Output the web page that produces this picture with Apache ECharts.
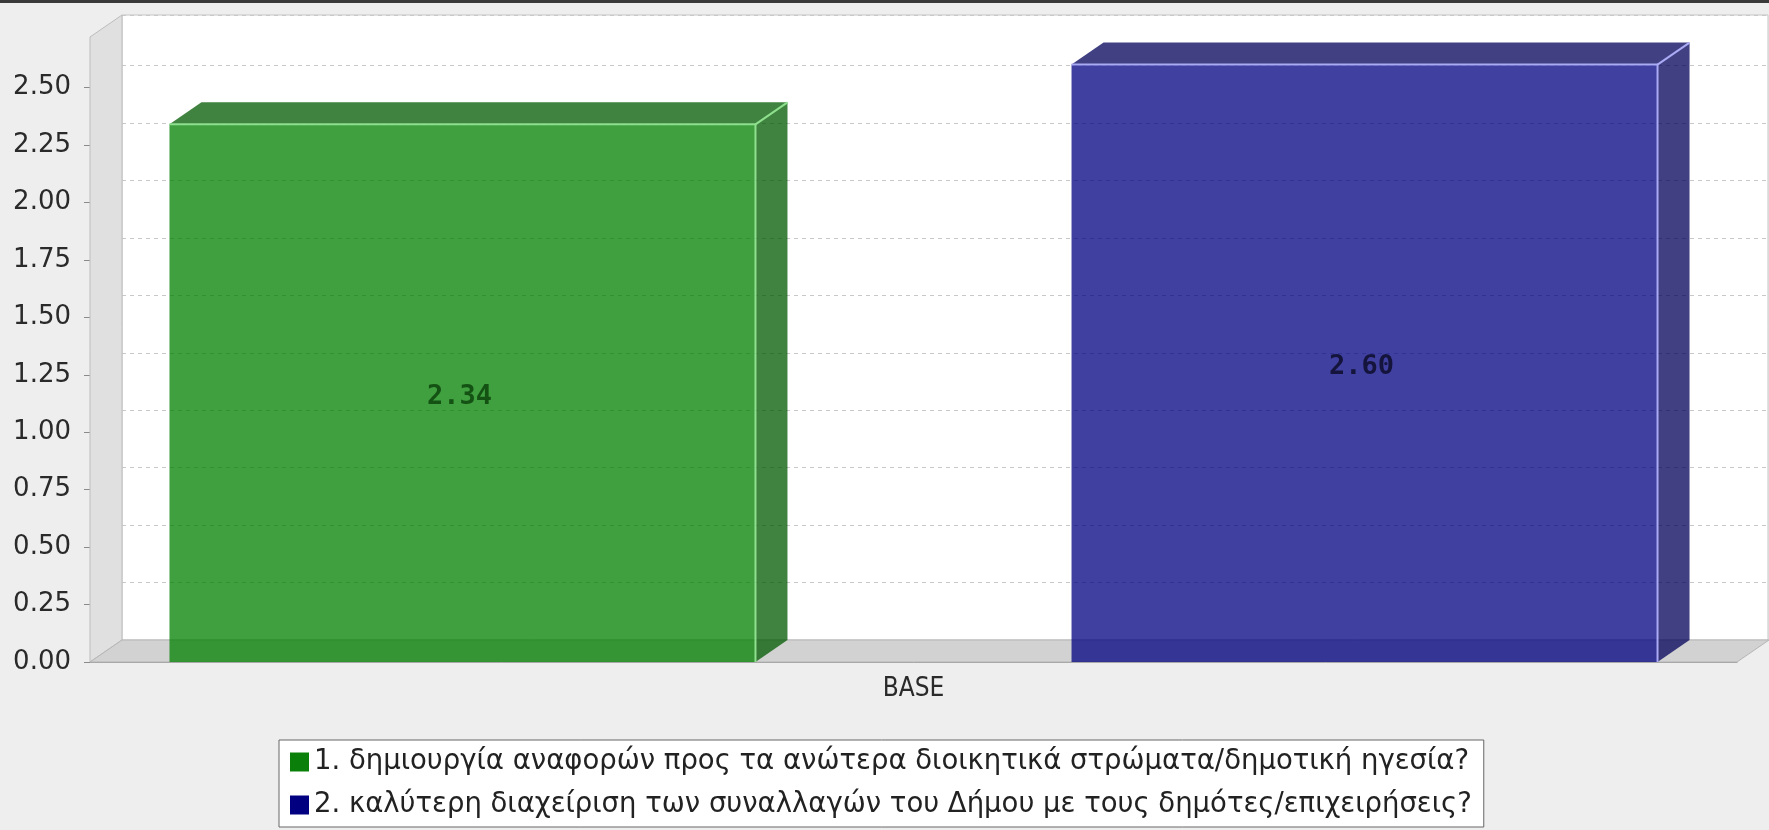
<!DOCTYPE html>
<html>
<head>
<meta charset="utf-8">
<script src="https://cdn.jsdelivr.net/npm/echarts@6/dist/echarts.min.js"></script>
<style>
html,body{margin:0;padding:0;background:#eeeeee;}
#chart{width:1769px;height:830px;}
</style>
</head>
<body>
<div id="chart"></div>
<script>
// ---- data ----
const categories = ['BASE'];
const seriesNames = [
  '1. δημιουργία αναφορών προς τα ανώτερα διοικητικά στρώματα/δημοτική ηγεσία?',
  '2. καλύτερη διαχείριση των συναλλαγών του Δήμου με τους δημότες/επιχειρήσεις?'
];
const values1 = [2.34];
const values2 = [2.60];
const yTicks = [0, 0.25, 0.5, 0.75, 1.0, 1.25, 1.5, 1.75, 2.0, 2.25, 2.5];
const yMin = 0;
const yMax = 2.72;

// ---- styling ----
const DX = 32, DY = 22;               // 3D depth offset
const BAR_FRAC = 0.3558, GAP_FRAC = 0.1919;
const AXIS_FONT = 'DejaVu Sans';
const CAT_FONT = 'DejaVu Sans Condensed';

const chart = echarts.init(document.getElementById('chart'), null, {renderer: 'canvas'});

function barRenderer(k, n, front, side, edge, labelColor) {
  return function (params, api) {
    const cat = api.value(0), val = api.value(1);
    const base = api.coord([cat, 0]);
    const top = api.coord([cat, val]);
    const band = api.size([1, 0])[0];
    const w = band * BAR_FRAC, g = band * GAP_FRAC;
    const total = n * w + (n - 1) * g;
    const x0 = base[0] - total / 2 + k * (w + g);
    const x1 = x0 + w;
    const yT = top[1], yB = base[1];
    return {
      type: 'group',
      children: [
        {type: 'polygon', shape: {points: [[x1, yT], [x1 + DX, yT - DY], [x1 + DX, yB - DY], [x1, yB]]},
         style: {fill: side, opacity: 0.75}},
        {type: 'polygon', shape: {points: [[x0, yT], [x0 + DX, yT - DY], [x1 + DX, yT - DY], [x1, yT]]},
         style: {fill: side, opacity: 0.75}},
        {type: 'rect', shape: {x: x0, y: yT, width: w, height: yB - yT},
         style: {fill: front, opacity: 0.75}},
        {type: 'polyline', shape: {points: [[x0, yT], [x1, yT], [x1, yB]]},
         style: {stroke: edge, lineWidth: 2, fill: null}},
        {type: 'line', shape: {x1: x1, y1: yT, x2: x1 + DX, y2: yT - DY},
         style: {stroke: edge, lineWidth: 2}},
        {type: 'text', x: (x0 + x1) / 2 - 3, y: (yT + yB) / 2 + 4,
         style: {text: val.toFixed(2), fill: labelColor, font: 'bold 27px "DejaVu Sans Mono"',
                 align: 'center', verticalAlign: 'middle'}}
      ]
    };
  };
}

function wallRenderer(params, api) {
  const cs = params.coordSys;
  const x = cs.x, y = cs.y, w = cs.width, h = cs.height;
  return {
    type: 'group',
    children: [
      {type: 'polygon', shape: {points: [[x, y + h], [x, y], [x + DX, y - DY], [x + DX, y + h - DY]]},
       style: {fill: '#e0e0e0', stroke: '#bdbdbd', lineWidth: 1}},
      {type: 'polygon', shape: {points: [[x, y + h], [x + w, y + h], [x + w + DX, y + h - DY], [x + DX, y + h - DY]]},
       style: {fill: '#d2d2d2', stroke: '#b5b5b5', lineWidth: 1}}
    ]
  };
}

const option = {
  backgroundColor: '#eeeeee',
  animation: false,
  graphic: [
    {type: 'rect', left: 0, top: 0, shape: {width: 1769, height: 3}, style: {fill: '#3a3a3a'}, z: 100}
  ],
  grid: [
    {left: 90, right: 32, top: 37, bottom: 168, show: false},
    {left: 90 + DX, right: 32 - DX + 1, top: 37 - DY, bottom: 168 + DY, show: true,
     backgroundColor: '#ffffff', borderColor: '#c4c4c4', borderWidth: 1}
  ],
  xAxis: [
    {type: 'category', gridIndex: 0, data: categories,
     axisLine: {show: true, lineStyle: {color: '#9a9a9a'}},
     axisTick: {show: false},
     axisLabel: {margin: 14, fontFamily: CAT_FONT, fontSize: 26, color: '#2a2a2a'},
     splitLine: {show: false}},
    {type: 'category', gridIndex: 1, data: categories, show: false}
  ],
  yAxis: [
    {type: 'value', gridIndex: 0, min: yMin, max: yMax,
     axisLine: {show: true, lineStyle: {color: '#8a8a8a'}},
     axisTick: {show: true, length: 6, customValues: yTicks, lineStyle: {color: '#8a8a8a'}},
     axisLabel: {margin: 19, customValues: yTicks, fontFamily: AXIS_FONT, fontSize: 26, color: '#2a2a2a',
                 formatter: v => v.toFixed(2)},
     splitLine: {show: false}},
    {type: 'value', gridIndex: 1, min: yMin, max: yMax, interval: 0.25,
     axisLine: {show: false}, axisTick: {show: false}, axisLabel: {show: false},
     splitLine: {show: true, lineStyle: {color: '#c8c8c8', type: [4, 4], width: 1}}}
  ],
  legend: {
    orient: 'vertical', left: 279, top: 740,
    padding: [7, 12, 7, 11], itemGap: 13, itemWidth: 19, itemHeight: 19,
    backgroundColor: '#ffffff', borderColor: '#666666', borderWidth: 1,
    textStyle: {fontFamily: 'DejaVu Sans', fontSize: 27.5, color: '#222222', lineHeight: 30},
    data: [
      {name: seriesNames[0], icon: 'rect', itemStyle: {color: '#0a800a', opacity: 1}},
      {name: seriesNames[1], icon: 'rect', itemStyle: {color: '#000080', opacity: 1}}
    ]
  },
  series: [
    {type: 'custom', name: '_walls', xAxisIndex: 0, yAxisIndex: 0, z: 1, silent: true,
     renderItem: wallRenderer, data: [[0, 0]]},
    {type: 'custom', name: seriesNames[0], xAxisIndex: 0, yAxisIndex: 0, z: 3,
     itemStyle: {color: '#008000'},
     encode: {x: 0, y: 1},
     renderItem: barRenderer(0, 2, '#008000', '#005900', '#8ee08e', '#145214'),
     data: categories.map((c, i) => [i, values1[i]])},
    {type: 'custom', name: seriesNames[1], xAxisIndex: 0, yAxisIndex: 0, z: 3,
     itemStyle: {color: '#000080'},
     encode: {x: 0, y: 1},
     renderItem: barRenderer(1, 2, '#000080', '#000059', '#aaaaf5', '#14143c'),
     data: categories.map((c, i) => [i, values2[i]])}
  ]
};
chart.setOption(option);
</script>
</body>
</html>
